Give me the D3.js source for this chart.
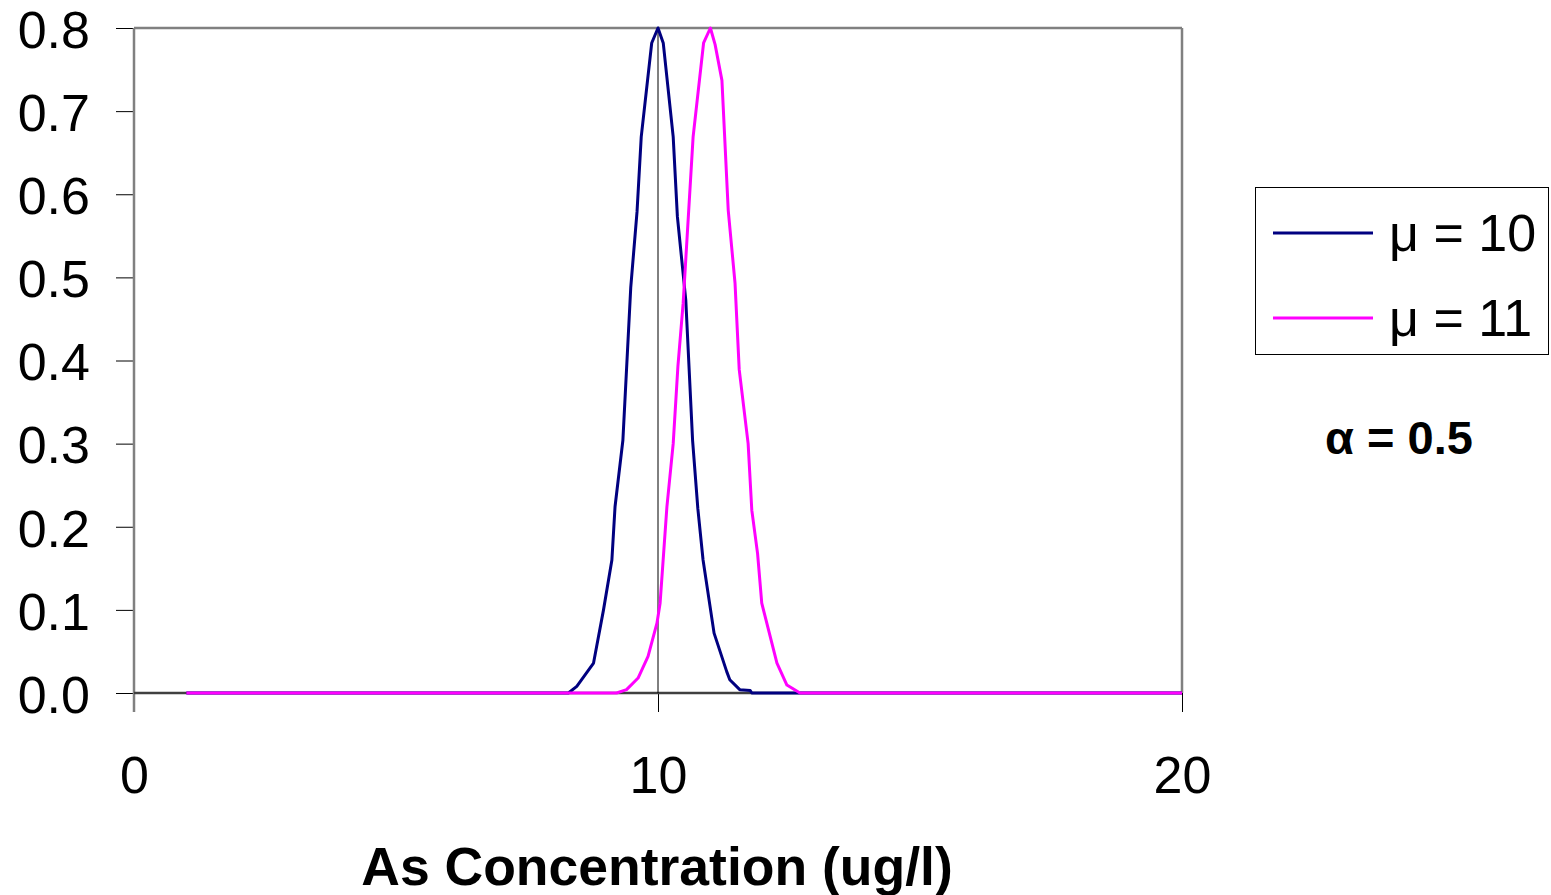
<!DOCTYPE html>
<html>
<head>
<meta charset="utf-8">
<script src="https://cdn.jsdelivr.net/npm/d3@7"></script>
<style>
  html, body { margin: 0; padding: 0; background: #ffffff; }
  svg { display: block; }
  text { font-family: "Liberation Sans", Arial, sans-serif; fill: #000; }
</style>
</head>
<body>
<svg id="chart" width="1551" height="895"></svg>
<script>
// ---- data ----
const seriesNames = ["μ = 10", "μ = 11"];
const seriesColors = ["#000080", "#FF00FF"];

const mu10X = [1, 8.29, 8.45, 8.77, 8.96, 9.12, 9.18, 9.33, 9.48, 9.60, 9.68, 9.88, 10.0, 10.10, 10.29, 10.37, 10.53, 10.66, 10.76, 10.86, 11.07, 11.31, 11.37, 11.56, 11.76, 11.79, 20];
const mu10Y = [0, 0, 0.008, 0.036, 0.100, 0.160, 0.224, 0.304, 0.488, 0.579, 0.669, 0.782, 0.800, 0.782, 0.669, 0.573, 0.473, 0.304, 0.222, 0.160, 0.072, 0.026, 0.016, 0.004, 0.003, 0, 0];

const mu11X = [1, 9.21, 9.40, 9.62, 9.81, 9.98, 10.04, 10.17, 10.29, 10.38, 10.48, 10.67, 10.87, 11.0, 11.09, 11.22, 11.34, 11.47, 11.55, 11.72, 11.79, 11.90, 11.98, 12.27, 12.46, 12.71, 20];
const mu11Y = [0, 0, 0.004, 0.018, 0.044, 0.084, 0.108, 0.224, 0.300, 0.393, 0.469, 0.669, 0.782, 0.800, 0.780, 0.737, 0.581, 0.493, 0.389, 0.300, 0.220, 0.168, 0.108, 0.036, 0.0096, 0, 0];

const xTicks = [0, 10, 20];
const yTicks = [0, 0.1, 0.2, 0.3, 0.4, 0.5, 0.6, 0.7, 0.8];
const refLineX = 10;
const xTitle = "As Concentration (ug/l)";
const alphaLabel = "α = 0.5";

// ---- layout ----
const svg = d3.select("#chart");
const mLeft = 134, mRight = 1182, mTop = 28, mBottom = 693;

const x = d3.scaleLinear().domain([0, 20]).range([mLeft, mRight]);
const y = d3.scaleLinear().domain([0, 0.8]).range([mBottom, mTop]);

// y axis ticks + labels
const yAxis = d3.axisLeft(y).tickValues(yTicks).tickFormat(d3.format(".1f")).tickSize(18).tickPadding(26);
const gy = svg.append("g").attr("transform", `translate(${mLeft},0)`).call(yAxis);
gy.select(".domain").remove();
gy.selectAll(".tick line").attr("stroke", "#000").attr("stroke-width", 1);
gy.selectAll(".tick text")
  .attr("dy", "0.37em")
  .style("font-size", "52px")
  .style("font-family", "'Liberation Sans', Arial, sans-serif")
  .attr("fill", "#000");

// x axis ticks + labels
const xAxis = d3.axisBottom(x).tickValues(xTicks).tickFormat(d3.format("d")).tickSize(19);
const gx = svg.append("g").attr("transform", `translate(0,${mBottom})`).call(xAxis);
gx.select(".domain").remove();
gx.selectAll(".tick line").attr("stroke", "#000").attr("stroke-width", 1);
gx.selectAll(".tick text")
  .attr("y", 100).attr("dy", 0)
  .style("font-size", "52px")
  .style("font-family", "'Liberation Sans', Arial, sans-serif")
  .attr("fill", "#000");

// frame
const frame = svg.append("g").attr("fill", "none").attr("stroke", "#808080").attr("stroke-width", 2.5);
frame.append("line").attr("x1", x(0)).attr("x2", x(20)).attr("y1", y(0.8)).attr("y2", y(0.8));
frame.append("line").attr("x1", x(20)).attr("x2", x(20)).attr("y1", y(0.8)).attr("y2", y(0));
frame.append("line").attr("x1", x(0)).attr("x2", x(0)).attr("y1", y(0.8)).attr("y2", y(0) + 19);
frame.append("line").attr("x1", x(0)).attr("x2", x(20)).attr("y1", y(0)).attr("y2", y(0)).attr("stroke", "#404040");

// reference vertical line at x = 10
svg.append("line")
  .attr("x1", x(refLineX)).attr("x2", x(refLineX))
  .attr("y1", y(0)).attr("y2", y(0.8))
  .attr("stroke", "#000").attr("stroke-width", 1);

// series
const line = d3.line().x(d => x(d[0])).y(d => y(d[1]));
const series = [
  d3.zip(mu10X, mu10Y),
  d3.zip(mu11X, mu11Y)
];
series.forEach((pts, i) => {
  svg.append("path")
    .datum(pts)
    .attr("d", line)
    .attr("fill", "none")
    .attr("stroke", seriesColors[i])
    .attr("stroke-width", 3)
    .attr("stroke-linejoin", "round");
});

// legend
const lg = svg.append("g");
lg.append("rect").attr("x", 1255.5).attr("y", 187.5).attr("width", 293).attr("height", 167)
  .attr("fill", "#fff").attr("stroke", "#000").attr("stroke-width", 1);
const legendY = [233, 318];
seriesNames.forEach((name, i) => {
  lg.append("line").attr("x1", 1273).attr("x2", 1373).attr("y1", legendY[i]).attr("y2", legendY[i])
    .attr("stroke", seriesColors[i]).attr("stroke-width", 3);
  lg.append("text").attr("x", 1389).attr("y", legendY[i] + 18)
    .style("font-size", "52px").text(name);
});

// alpha annotation
svg.append("text").attr("x", 1399).attr("y", 454).attr("text-anchor", "middle")
  .style("font-size", "47px").style("font-weight", "bold").text(alphaLabel);

// x-axis title
svg.append("text").attr("x", 657).attr("y", 885).attr("text-anchor", "middle")
  .style("font-size", "53.5px").style("font-weight", "bold").text(xTitle);
</script>
</body>
</html>
